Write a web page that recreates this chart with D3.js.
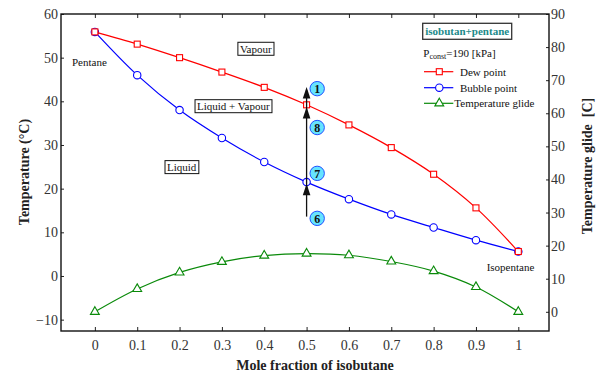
<!DOCTYPE html>
<html>
<head>
<meta charset="utf-8">
<script src="https://cdn.jsdelivr.net/npm/d3@7"></script>
<style>
  html, body { margin: 0; padding: 0; background: #fff; }
  svg { display: block; font-family: "Liberation Serif", "Times New Roman", serif; }
</style>
</head>
<body>
<svg id="chart" width="598" height="381"></svg>
<script>
// Mole fraction of isobutane in the isobutane/pentane mixture
const moleFraction = [0, 0.1, 0.2, 0.3, 0.4, 0.5, 0.6, 0.7, 0.8, 0.9, 1.0];
// Dew point temperature, °C
const dewPoint = [55.9, 53.1, 50.0, 46.7, 43.2, 39.2, 34.6, 29.4, 23.3, 15.6, 5.6];
// Bubble point temperature, °C
const bubblePoint = [55.9, 46.0, 38.0, 31.6, 26.1, 21.5, 17.6, 14.1, 11.1, 8.2, 5.6];
// Temperature glide (dew - bubble), K
const tempGlide = [0, 6.9, 11.9, 15.1, 17.0, 17.6, 17.1, 15.2, 12.3, 7.5, 0];

// Axis tick values
const xTicks = [0, 0.1, 0.2, 0.3, 0.4, 0.5, 0.6, 0.7, 0.8, 0.9, 1];
const tempTicks = [-10, 0, 10, 20, 30, 40, 50, 60];
const glideTicks = [0, 10, 20, 30, 40, 50, 60, 70, 80, 90];

// Process points 6 → 7 → 8 → 1 at x = 0.5
const processMarks = [
  { label: "1", y: 42.9 },
  { label: "8", y: 34.0 },
  { label: "7", y: 23.5 },
  { label: "6", y: 13.2 }
];

const svg = d3.select("#chart");
const L = 61, R = 549, T = 14, B = 331;

const x = d3.scaleLinear().domain([-0.08, 1.0725]).range([L, R]);
const yL = d3.scaleLinear().domain([-12.6, 60]).range([B, T]);
const yR = d3.scaleLinear().domain([-5.8, 90]).range([B, T]);

const tickFont = g => g.selectAll("text")
  .attr("font-family", "Liberation Serif, serif")
  .attr("font-size", 14)
  .attr("fill", "#333");

// Axes
const xAxis = svg.append("g").attr("transform", `translate(0,${B})`)
  .call(d3.axisBottom(x).tickValues(xTicks).tickSizeInner(-4).tickSizeOuter(0).tickPadding(9)
    .tickFormat(d => d3.format("")(+d.toFixed(1))))
  .call(tickFont);
svg.append("g").attr("transform", `translate(0,${T})`)
  .call(d3.axisTop(x).tickValues(xTicks).tickSizeInner(-4).tickSizeOuter(0).tickFormat(""));
svg.append("g").attr("transform", `translate(${L},0)`)
  .call(d3.axisLeft(yL).tickValues(tempTicks).tickSizeInner(-3).tickSizeOuter(0).tickPadding(3))
  .call(tickFont);
svg.append("g").attr("transform", `translate(${R},0)`)
  .call(d3.axisRight(yR).tickValues(glideTicks).tickSizeInner(-3).tickSizeOuter(0).tickPadding(2))
  .call(tickFont);
svg.selectAll(".domain").remove();
svg.selectAll(".tick line").attr("stroke", "#222");

// Plot frame
svg.append("rect").attr("x", L).attr("y", T).attr("width", R - L).attr("height", B - T)
  .attr("fill", "none").attr("stroke", "#111").attr("stroke-width", 1.4);

// Axis titles
svg.append("text").attr("x", 315).attr("y", 370).attr("text-anchor", "middle")
  .attr("font-size", 14).attr("font-weight", "bold").attr("fill", "#222")
  .text("Mole fraction of isobutane");
svg.append("text").attr("transform", "translate(24,172) rotate(-90)")
  .attr("text-anchor", "middle").attr("dy", "0.35em")
  .attr("font-size", 14).attr("font-weight", "bold").attr("fill", "#222")
  .text("Temperature (°C)");
svg.append("text").attr("transform", "translate(587,166) rotate(-90)")
  .attr("text-anchor", "middle").attr("dy", "0.35em").style("white-space", "pre")
  .attr("font-size", 14).attr("font-weight", "bold").attr("fill", "#222")
  .text("Temperature glide  [C]");

// Series
const curve = d3.curveCatmullRom.alpha(0.5);
const lineL = d3.line().x((d, i) => x(moleFraction[i])).y(d => yL(d)).curve(curve);
const lineR = d3.line().x((d, i) => x(moleFraction[i])).y(d => yR(d)).curve(curve);

const green = "#0a8a0a", red = "#ff0000", blue = "#0000ff";
const triPath = d3.symbol().type(d3.symbolTriangle).size(34)();

function drawMarkers(g, vals, scale, kind, color) {
  const sel = g.selectAll(null).data(vals).enter();
  if (kind === "circle") {
    sel.append("circle").attr("cx", (d, i) => x(moleFraction[i])).attr("cy", d => scale(d))
      .attr("r", 3.7).attr("fill", "#fff").attr("stroke", color).attr("stroke-width", 1.1);
  } else if (kind === "square") {
    sel.append("rect").attr("x", (d, i) => x(moleFraction[i]) - 3).attr("y", d => scale(d) - 3)
      .attr("width", 6).attr("height", 6).attr("fill", "#fff").attr("stroke", color).attr("stroke-width", 1.1);
  } else {
    sel.append("path").attr("d", triPath)
      .attr("transform", (d, i) => `translate(${x(moleFraction[i])},${scale(d)})`)
      .attr("fill", "#fff").attr("stroke", color).attr("stroke-width", 1.1);
  }
}

const gGlide = svg.append("g");
gGlide.append("path").datum(tempGlide).attr("d", lineR).attr("fill", "none").attr("stroke", green).attr("stroke-width", 1.2);
drawMarkers(gGlide, tempGlide, yR, "triangle", green);

const gBub = svg.append("g");
gBub.append("path").datum(bubblePoint).attr("d", lineL).attr("fill", "none").attr("stroke", blue).attr("stroke-width", 1.2);
const gDew = svg.append("g");
gDew.append("path").datum(dewPoint).attr("d", lineL).attr("fill", "none").attr("stroke", red).attr("stroke-width", 1.2);
drawMarkers(gBub, bubblePoint, yL, "circle", blue);
drawMarkers(gDew, dewPoint, yL, "square", red);

// Heating process arrow at x = 0.5
const ax = x(0.5);
svg.append("line").attr("x1", ax).attr("x2", ax).attr("y1", yL(13.6)).attr("y2", yL(42.6))
  .attr("stroke", "#111").attr("stroke-width", 1.3);
[43.3, 38.7, 21.1].forEach(v => {
  const ty = yL(v);
  svg.append("path").attr("d", `M${ax},${ty} L${ax - 3.8},${ty + 11.5} L${ax + 3.8},${ty + 11.5} Z`)
    .attr("fill", "#111");
});

// Numbered state points
const gMarks = svg.append("g").selectAll(null).data(processMarks).enter().append("g")
  .attr("transform", d => `translate(${x(0.525)},${yL(d.y)})`);
gMarks.append("circle").attr("r", 7.2).attr("fill", "#66e3ff").attr("stroke", "#2050ff").attr("stroke-width", 1);
gMarks.append("text").attr("text-anchor", "middle").attr("dy", "0.36em")
  .attr("font-size", 12).attr("font-weight", "bold").attr("fill", "#111").text(d => d.label);

// Region labels in boxes
const regions = [
  { text: "Vapour", x: 0.38, y: 52.0 },
  { text: "Liquid + Vapour", x: 0.327, y: 38.85 },
  { text: "Liquid", x: 0.205, y: 24.9 }
];
regions.forEach(r => {
  const g = svg.append("g");
  const t = g.append("text").attr("x", x(r.x)).attr("y", yL(r.y)).attr("dy", "0.35em")
    .attr("text-anchor", "middle").attr("font-size", 11).attr("fill", "#111").text(r.text);
  const bb = t.node().getBBox();
  g.insert("rect", "text").attr("x", bb.x - 2).attr("y", bb.y - 0.5)
    .attr("width", bb.width + 4).attr("height", bb.height + 1)
    .attr("fill", "#fff").attr("stroke", "#111").attr("stroke-width", 1);
});

// Pure component labels
svg.append("text").attr("x", x(-0.013)).attr("y", 66).attr("text-anchor", "middle")
  .attr("font-size", 11).attr("fill", "#111").text("Pentane");
svg.append("text").attr("x", x(0.9816)).attr("y", 271).attr("text-anchor", "middle")
  .attr("font-size", 11).attr("fill", "#111").text("Isopentane");

// Legend
const lg = svg.append("g");
lg.append("rect").attr("x", 422.7).attr("y", 23.3).attr("width", 89).attr("height", 16)
  .attr("fill", "#fff").attr("stroke", "#333").attr("stroke-width", 1.3);
lg.append("text").attr("x", 467.2).attr("y", 35).attr("text-anchor", "middle")
  .attr("font-size", 11).attr("font-weight", "bold").attr("fill", "#1b8a8a").text("isobutan+pentane");
const pt = lg.append("text").attr("x", 423.3).attr("y", 56.5).attr("font-size", 11).attr("fill", "#111");
pt.append("tspan").text("P");
pt.append("tspan").attr("font-size", 8).attr("dy", 2.5).text("const");
pt.append("tspan").attr("dy", -2.5).text("=190 [kPa]");

const legendItems = [
  { name: "Dew point", color: red, kind: "square", y: 71.7, tx: 460 },
  { name: "Bubble point", color: blue, kind: "circle", y: 87.7, tx: 460 },
  { name: "Temperature glide", color: green, kind: "triangle", y: 103.3, tx: 454.3 }
];
legendItems.forEach(it => {
  lg.append("line").attr("x1", 424).attr("x2", 453.3).attr("y1", it.y).attr("y2", it.y)
    .attr("stroke", it.color).attr("stroke-width", 1.2);
  if (it.kind === "square") {
    lg.append("rect").attr("x", 436.3).attr("y", it.y - 3).attr("width", 6).attr("height", 6)
      .attr("fill", "#fff").attr("stroke", it.color).attr("stroke-width", 1.1);
  } else if (it.kind === "circle") {
    lg.append("circle").attr("cx", 439.3).attr("cy", it.y).attr("r", 3.7)
      .attr("fill", "#fff").attr("stroke", it.color).attr("stroke-width", 1.1);
  } else {
    lg.append("path").attr("d", triPath).attr("transform", `translate(439.3,${it.y})`)
      .attr("fill", "#fff").attr("stroke", it.color).attr("stroke-width", 1.1);
  }
  lg.append("text").attr("x", it.tx).attr("y", it.y + 4).attr("font-size", 11).attr("fill", "#111").text(it.name);
});
</script>
</body>
</html>
